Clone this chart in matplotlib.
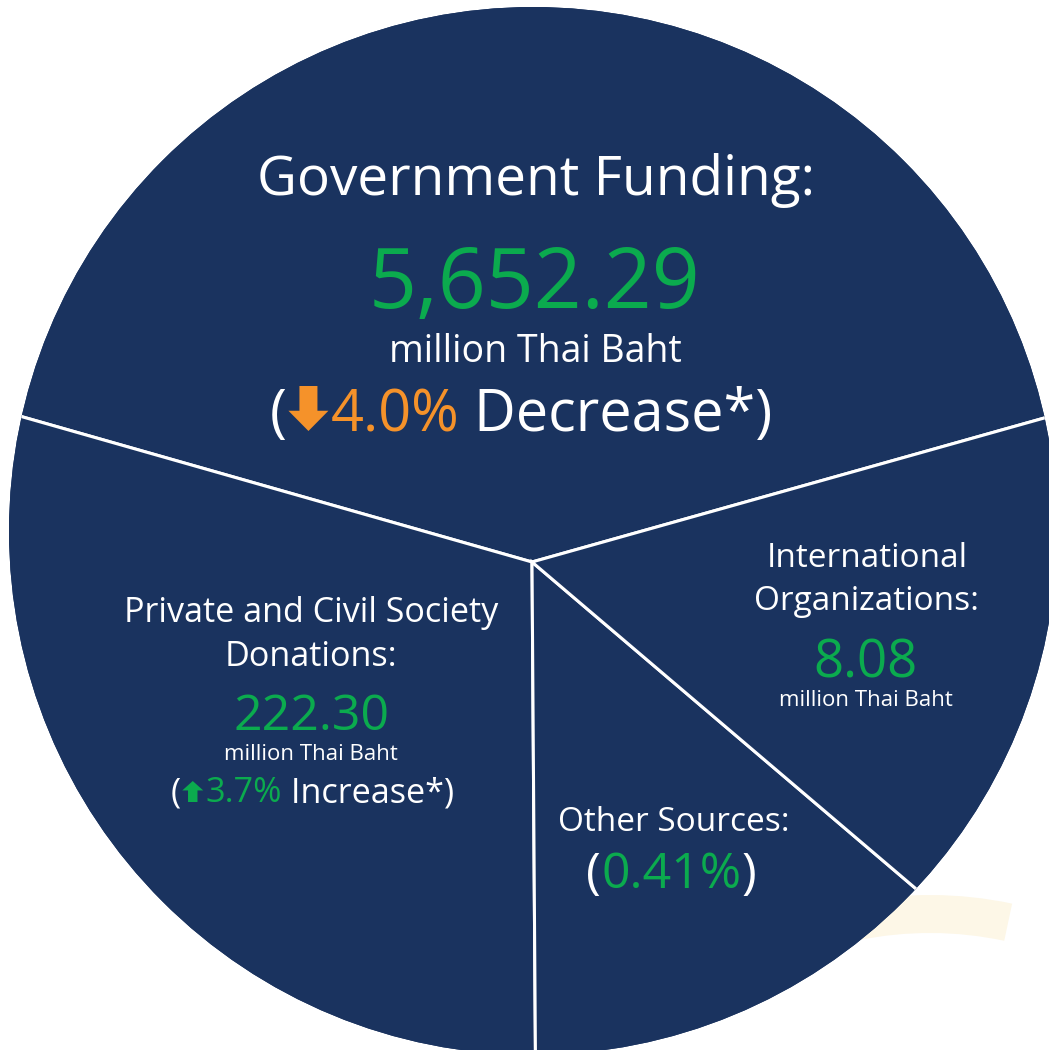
import matplotlib.pyplot as plt
from matplotlib.patches import Circle, Wedge, Polygon

# Funding sources and figures (million Thai Baht)
sources = ["Government Funding", "Private and Civil Society Donations",
           "Other Sources", "International Organizations"]
amounts = [5652.29, 222.30, None, 8.08]
changes = [-4.0, 3.7, None, None]
other_share = 0.41

# Decorative slice spans in degrees (the wedges are not to scale)
spans = [148.4, 106.3, 49.2, 56.1]
start_angle = 15.7

NAVY = "#1a335f"
GREEN = "#0bab4e"
ORANGE = "#f5922a"
CREAM = "#fdf7e7"

W, H = 1049, 1050
plt.rcParams['font.family'] = ['Open Sans', 'DejaVu Sans']

fig = plt.figure(figsize=(W / 100, H / 100), dpi=100)
ax = fig.add_axes([0, 0, 1, 1])


def Y(y):
    # pixel row (from top) -> data y
    return H - y


# faint ring behind the disc
ax.add_patch(Wedge((930, Y(1290)), 395, 78, 125, width=38,
                   facecolor=CREAM, edgecolor='none', zorder=0))

disc = Circle((533, Y(531)), 524, facecolor=NAVY, edgecolor='none', zorder=1)
ax.add_patch(disc)

wedges, _ = ax.pie(spans, startangle=start_angle, center=(532, Y(562)),
                   radius=900, colors=[NAVY] * len(spans),
                   wedgeprops=dict(edgecolor='white', linewidth=2.2),
                   frame=True)

ax.set_xlim(0, W)
ax.set_ylim(0, H)
ax.set_aspect('auto')
ax.axis('off')

# keep the slices inside the disc (pie turns clipping off by default)
for w in wedges:
    w.set_zorder(2)
    w.set_clip_on(True)
    w.set_clip_path(disc)

renderer = fig.canvas.get_renderer()


def arrow(x, y_base, height, width, color, down=True):
    # block arrow drawn in pixel units, sitting on the text baseline
    sw = width * 0.45
    hh = height * 0.45
    top, bot = y_base - height, y_base
    cx = x + width / 2
    if down:
        pts = [(cx - sw / 2, top), (cx + sw / 2, top), (cx + sw / 2, bot - hh),
               (x + width, bot - hh), (cx, bot), (x, bot - hh), (cx - sw / 2, bot - hh)]
    else:
        pts = [(cx - sw / 2, bot), (cx + sw / 2, bot), (cx + sw / 2, top + hh),
               (x + width, top + hh), (cx, top), (x, top + hh), (cx - sw / 2, top + hh)]
    ax.add_patch(Polygon([(px, Y(py)) for px, py in pts], closed=True,
                         facecolor=color, edgecolor='none', zorder=3))


def line(cx, y, parts):
    # parts: ("text", s, size, color) or ("arrow", height, width, color, down)
    placed = []
    total = 0
    for p in parts:
        if p[0] == "text":
            t = ax.text(0, Y(y), p[1], fontsize=p[2], color=p[3],
                        ha='left', va='baseline', zorder=4)
            w = t.get_window_extent(renderer).width
            placed.append((t, w))
        else:
            w = p[2] + 4
            placed.append((p, w))
        total += w
    x = cx - total / 2
    for obj, w in placed:
        if isinstance(obj, tuple):
            arrow(x + 2, y, obj[1], obj[2], obj[3], obj[4])
        else:
            obj.set_x(x)
        x += w


# Government funding
line(536, 195, [("text", sources[0] + ":", 39.5, "white")])
line(534, 308, [("text", f"{amounts[0]:,.2f}", 60.5, GREEN)])
line(535, 362, [("text", "million Thai Baht", 27, "white")])
line(521, 431, [("text", "(", 41.5, "white"),
                ("arrow", 45, 40, ORANGE, changes[0] < 0),
                ("text", f"{abs(changes[0]):.1f}%", 41.5, ORANGE),
                ("text", " Decrease*)", 41.5, "white")])

# Private and civil society donations
line(311, 622, [("text", "Private and Civil Society", 24.6, "white")])
line(311, 666, [("text", "Donations:", 24.6, "white")])
line(311, 730, [("text", f"{amounts[1]:.2f}", 36, GREEN)])
line(311, 760, [("text", "million Thai Baht", 16, "white")])
line(312, 802, [("text", "(", 24.7, "white"),
                ("arrow", 21, 21, GREEN, changes[1] < 0),
                ("text", f"{abs(changes[1]):.1f}%", 24.7, GREEN),
                ("text", " Increase*)", 24.7, "white")])

# International organizations
line(867, 567, [("text", "International", 24, "white")])
line(867, 610, [("text", "Organizations:", 24, "white")])
line(866, 677, [("text", f"{amounts[3]:.2f}", 38, GREEN)])
line(866, 706, [("text", "million Thai Baht", 16, "white")])

# Other sources
line(674, 831, [("text", sources[2] + ":", 24, "white")])
line(671, 888, [("text", "(", 36, "white"),
                ("text", f"{other_share:.2f}%", 36, GREEN),
                ("text", ")", 36, "white")])

fig.savefig("out.png", dpi=100, facecolor="white")
